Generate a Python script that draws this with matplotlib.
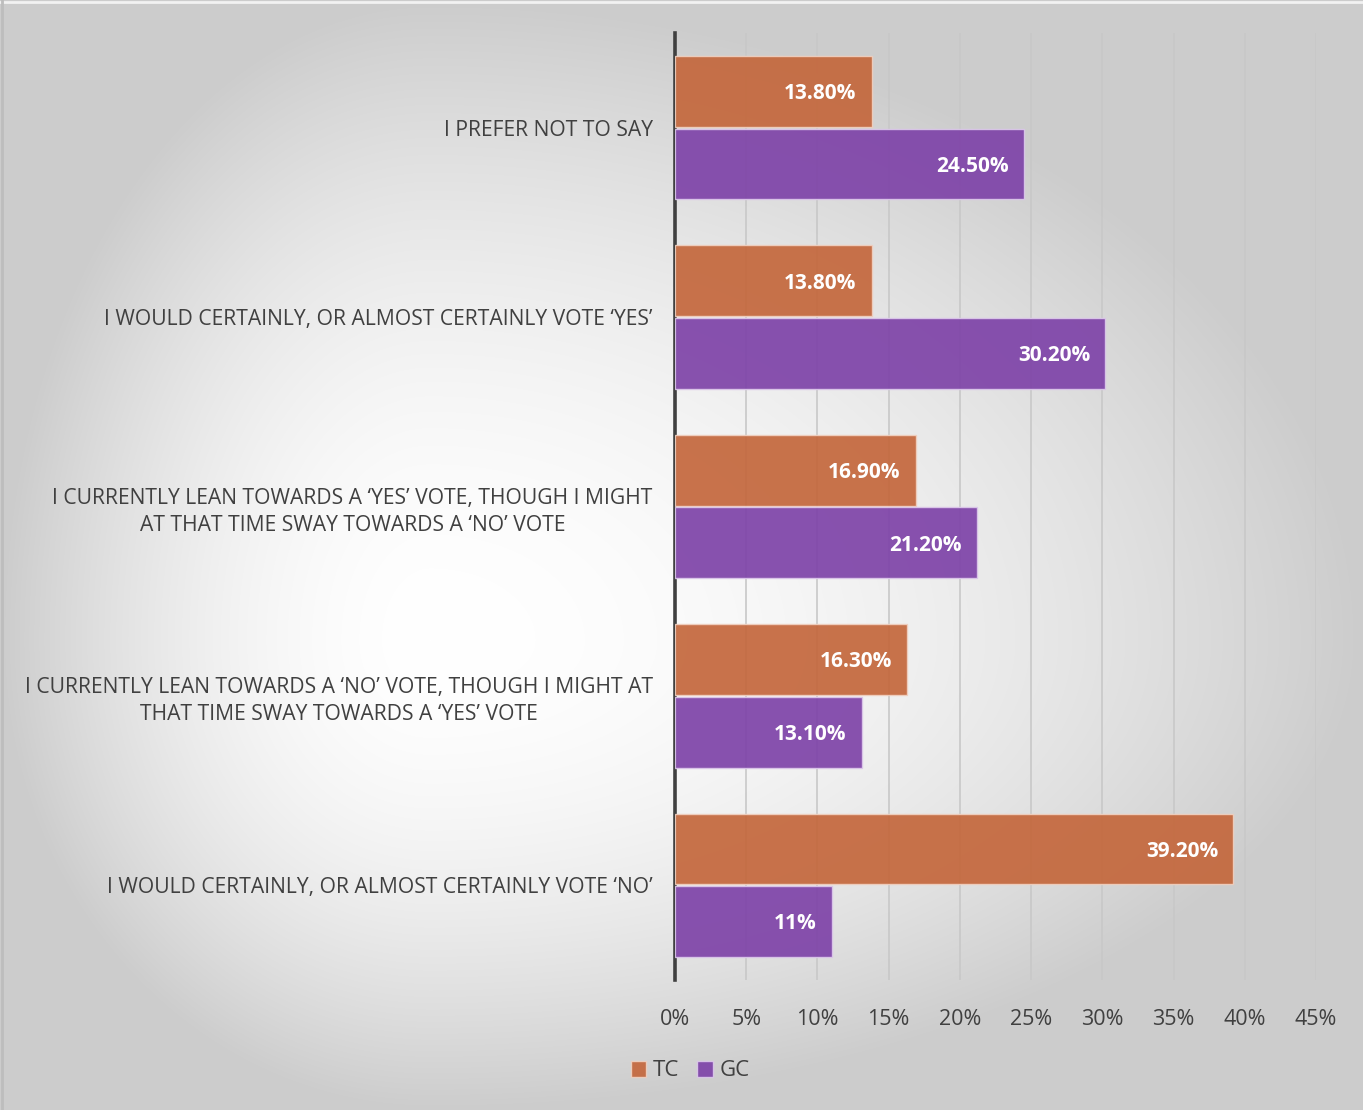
import numpy as np
import matplotlib
matplotlib.use("Agg")
from matplotlib import pyplot as plt

# data, bottom to top
categories = [
    "I WOULD CERTAINLY, OR ALMOST CERTAINLY VOTE \u2018NO\u2019",
    "I CURRENTLY LEAN TOWARDS A \u2018NO\u2019 VOTE, THOUGH I MIGHT AT\nTHAT TIME SWAY TOWARDS A \u2018YES\u2019 VOTE",
    "I CURRENTLY LEAN TOWARDS A \u2018YES\u2019 VOTE, THOUGH I MIGHT\nAT THAT TIME SWAY TOWARDS A \u2018NO\u2019 VOTE",
    "I WOULD CERTAINLY, OR ALMOST CERTAINLY VOTE \u2018YES\u2019",
    "I PREFER NOT TO SAY",
]
tc_values = [39.2, 16.3, 16.9, 13.8, 13.8]
gc_values = [11.0, 13.1, 21.2, 30.2, 24.5]
tc_labels = ["39.20%", "16.30%", "16.90%", "13.80%", "13.80%"]
gc_labels = ["11%", "13.10%", "21.20%", "30.20%", "24.50%"]
x_ticks = [0, 5, 10, 15, 20, 25, 30, 35, 40, 45]

FONT = ["Open Sans", "DejaVu Sans"]
plt.rcParams["font.family"] = FONT

W, H = 1363, 1110
fig = plt.figure(figsize=(W / 100, H / 100), dpi=100)

# radial gradient background
bg = fig.add_axes([0, 0, 1, 1], zorder=-10)
xx, yy = np.meshgrid(np.arange(W), np.arange(H))
cx, cy = 430, 640
rx = np.where(xx < cx, cx, W - cx)
ry = np.where(yy < cy, cy, H - cy)
t = np.sqrt(((xx - cx) / rx) ** 2 + ((yy - cy) / ry) ** 2)
g = 1.0 - 0.2 * np.clip(t, 0, 1) ** 1.8
g = np.clip(g, 0.78, 1.0)
bg.imshow(np.dstack([g, g, g]), aspect="auto", extent=[0, W, H, 0])
bg.plot([0, W], [1.5, 1.5], color="#f2f2f2", lw=2)
bg.plot([1.5, 1.5], [0, H], color="#bdbdbd", lw=2)
bg.set_xlim(0, W)
bg.set_ylim(H, 0)
bg.axis("off")

left = 675 / W
right = 1316 / W
top = 1 - 33 / H
bottom = 1 - 980 / H
ax = fig.add_axes([left, bottom, right - left, top - bottom])
ax.patch.set_alpha(0)

y = np.arange(len(categories))
h = 0.374
tc_color = "#c4673c"
gc_color = "#7e43a8"

tc_bars = ax.barh(y + h / 2 + 0.005, tc_values, height=h, color=tc_color, alpha=0.92,
                  edgecolor="#f0d0c0", linewidth=1, zorder=3, label="TC")
gc_bars = ax.barh(y - h / 2 - 0.005, gc_values, height=h, color=gc_color, alpha=0.92,
                  edgecolor="#dcc8ea", linewidth=1, zorder=3, label="GC")

for bars, labels in [(tc_bars, tc_labels), (gc_bars, gc_labels)]:
    for b, lab in zip(bars, labels):
        ax.text(b.get_width() - 1.05, b.get_y() + b.get_height() / 2 - 0.012, lab,
                ha="right", va="center", color="white", fontsize=15,
                fontweight="bold", zorder=4)

ax.set_xlim(0, 45)
ax.set_ylim(-0.5, 4.5)
ax.set_xticks(x_ticks)
ax.set_xticklabels([f"{v}%" for v in x_ticks], fontsize=15.5, color="#404040")
ax.xaxis.grid(True, color="#c8c8c8", lw=1.2, zorder=0)
ax.set_axisbelow(True)
ax.tick_params(axis="x", length=0, pad=21)
ax.tick_params(axis="y", length=0, pad=16)
ax.set_yticks(y)
ax.set_yticklabels(categories, fontsize=15.2, color="#404040",
                   multialignment="center", linespacing=1.35)

for s in ["top", "right", "bottom"]:
    ax.spines[s].set_visible(False)
ax.spines["left"].set_color("#404040")
ax.spines["left"].set_linewidth(2.6)

leg = fig.legend(handles=[tc_bars, gc_bars], labels=["TC", "GC"], loc="center",
                 bbox_to_anchor=(690 / W, 1 - 1071 / H), ncol=2, frameon=False,
                 fontsize=16, handlelength=0.7, handleheight=0.7, handletextpad=0.3,
                 columnspacing=0.8, labelcolor="#404040")

plt.savefig("out.png", dpi=100)
